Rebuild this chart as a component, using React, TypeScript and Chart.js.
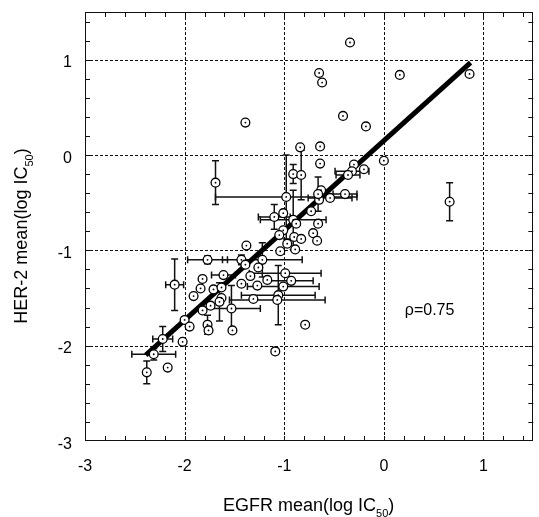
import React, { useEffect, useRef } from "react";
import { Chart, registerables } from "chart.js";

Chart.register(...registerables);

// ---- data (log IC50 means) ----
const egfrMean = [
  -0.34, -0.65, -0.62, 0.16, 0.86, -1.39, -0.41, -0.18, -0.84, -0.64,
  -0.64, 0.0, -0.30, -0.20, -0.32, -0.36, -0.91, -0.83, -1.69, -0.98,
  -0.63, -0.65, -0.54, -0.39, 0.66, -0.73, -1.01, -1.10, -0.91, -0.88,
  -0.66, -1.01, -0.71, -1.05, -0.90, -0.83, -0.67, -0.97, -0.89, -1.04,
  -1.38, -1.22, -1.26, -1.34, -1.17, -0.99, -0.93, -1.01, -1.27, -1.06,
  -1.07, -1.31, -0.79, -1.09, -1.77, -1.43, -1.39, -1.61, -1.82, -1.84,
  -1.91, -1.71, -1.63, -1.63, -1.43, -2.10, -1.74, -1.65, -1.53, -1.82,
  -1.52, -2.00, -1.95, -1.77, -1.76, -2.22, -2.02, -2.31, -2.38, -2.17,
  -0.66,
];
const her2Mean = [
  1.18, 0.86, 0.76, 0.84, 0.85, 0.34, 0.41, 0.30, 0.08, 0.09,
  -0.09, -0.06, -0.10, -0.15, -0.17, -0.21, -0.20, -0.21, -0.29, -0.44,
  -0.37, -0.47, -0.45, -0.41, -0.49, -0.59, -0.61, -0.65, -0.68, -0.72,
  -0.72, -0.79, -0.82, -0.84, -0.86, -0.88, -0.90, -0.93, -0.99, -1.01,
  -0.95, -1.10, -1.18, -1.27, -1.31, -1.24, -1.32, -1.38, -1.37, -1.47,
  -1.52, -1.51, -1.78, -2.06, -1.10, -1.10, -1.15, -1.26, -1.30, -1.40,
  -1.48, -1.41, -1.39, -1.50, -1.35, -1.36, -1.58, -1.54, -1.61, -1.63,
  -1.84, -1.73, -1.80, -1.78, -1.84, -1.93, -1.96, -2.09, -2.28, -2.23,
  -0.41,
];
const egfrErr = [
  0, 0, 0, 0, 0, 0, 0, 0, 0, 0,
  0, 0, 0, 0, 0.17, 0.12, 0, 0, 0, 0.71,
  0, 0, 0.22, 0.12, 0, 0, 0, 0.16, 0.33, 0,
  0, 0, 0, 0, 0, 0, 0, 0, 0, 0,
  0, 0.40, 0, 0, 0, 0.36, 0.22, 0.36, 0, 0.37,
  0.48, 0, 0, 0, 0.20, 0, 0, 0.12, 0, 0,
  0, 0, 0, 0, 0, 0.09, 0, 0, 0.29, 0,
  0, 0, 0, 0, 0, 0.10, 0, 0.22, 0, 0,
  0,
];
const her2Err = [
  0, 0, 0, 0, 0, 0, 0, 0, 0, 0,
  0, 0, 0, 0, 0, 0, 0.10, 0.26, 0.23, 0.44,
  0, 0, 0, 0, 0.20, 0, 0, 0.13, 0.31, 0,
  0, 0, 0, 0, 0, 0, 0, 0, 0, 0,
  0, 0.18, 0, 0, 0, 0, 0, 0, 0, 0.31,
  0, 0, 0, 0, 0.04, 0.05, 0, 0, 0, 0,
  0, 0, 0, 0, 0, 0.27, 0, 0.20, 0.24, 0,
  0, 0, 0, 0.10, 0, 0.13, 0, 0.06, 0.12, 0,
  0.18,
];

// regression line end points
const fitX = [-2.39, 0.87];
const fitY = [-2.1, 0.97];

// axes
const xTicks = [-3, -2, -1, 0, 1];
const yTicks = [-3, -2, -1, 0, 1];
const axisMin = -3;
const axisMax = 1.5;
const minorStep = 0.2;

const xTitle = "EGFR mean(log IC";
const yTitle = "HER-2 mean(log IC";
const subText = "50";
const rhoText = "\u03c1=0.75";
const rhoPos = { x: 0.21, y: -1.68 };

const FONT = "'Liberation Sans', Arial, Helvetica, sans-serif";

function drawTitle(ctx: CanvasRenderingContext2D, main: string) {
  ctx.font = `18px ${FONT}`;
  const w1 = ctx.measureText(main).width;
  ctx.font = `11px ${FONT}`;
  const w2 = ctx.measureText(subText).width;
  ctx.font = `18px ${FONT}`;
  const w3 = ctx.measureText(")").width;
  const total = w1 + w2 + w3;
  let cx = -total / 2;
  ctx.textAlign = "left";
  ctx.textBaseline = "alphabetic";
  ctx.fillText(main, cx, 0);
  cx += w1;
  ctx.font = `11px ${FONT}`;
  ctx.fillText(subText, cx, 5.5);
  cx += w2;
  ctx.font = `18px ${FONT}`;
  ctx.fillText(")", cx, 0);
}

const customPlugin = {
  id: "customAxes",
  beforeDatasetsDraw(chart: any) {
    const { ctx, chartArea: a, scales } = chart;
    const xs = scales.x;
    const ys = scales.y;
    ctx.save();
    // dotted grid
    ctx.strokeStyle = "#111";
    ctx.lineWidth = 1;
    ctx.setLineDash([3, 2]);
    xTicks.forEach((v) => {
      if (v <= axisMin) return;
      const px = Math.round(xs.getPixelForValue(v)) + 0.5;
      ctx.beginPath();
      ctx.moveTo(px, a.top);
      ctx.lineTo(px, a.bottom);
      ctx.stroke();
    });
    yTicks.forEach((v) => {
      if (v <= axisMin) return;
      const py = Math.round(ys.getPixelForValue(v)) + 0.5;
      ctx.beginPath();
      ctx.moveTo(a.left, py);
      ctx.lineTo(a.right, py);
      ctx.stroke();
    });
    ctx.setLineDash([]);
    // error bars
    ctx.strokeStyle = "#111";
    ctx.lineWidth = 1.5;
    const cap = 3.5;
    egfrMean.forEach((xv, i) => {
      const yv = her2Mean[i];
      const px = xs.getPixelForValue(xv);
      const py = ys.getPixelForValue(yv);
      const ex = egfrErr[i];
      const ey = her2Err[i];
      if (ex > 0) {
        const l = xs.getPixelForValue(xv - ex);
        const r = xs.getPixelForValue(xv + ex);
        ctx.beginPath();
        ctx.moveTo(l, py);
        ctx.lineTo(r, py);
        ctx.moveTo(l, py - cap);
        ctx.lineTo(l, py + cap);
        ctx.moveTo(r, py - cap);
        ctx.lineTo(r, py + cap);
        ctx.stroke();
      }
      if (ey > 0) {
        const t = ys.getPixelForValue(yv + ey);
        const b = ys.getPixelForValue(yv - ey);
        ctx.beginPath();
        ctx.moveTo(px, t);
        ctx.lineTo(px, b);
        ctx.moveTo(px - cap, t);
        ctx.lineTo(px + cap, t);
        ctx.moveTo(px - cap, b);
        ctx.lineTo(px + cap, b);
        ctx.stroke();
      }
    });
    ctx.restore();
  },
  afterDatasetsDraw(chart: any) {
    const { ctx, chartArea: a, scales } = chart;
    const xs = scales.x;
    const ys = scales.y;
    ctx.save();
    // frame
    ctx.strokeStyle = "#111";
    ctx.lineWidth = 1;
    ctx.strokeRect(Math.round(a.left) + 0.5, Math.round(a.top) + 0.5, Math.round(a.right - a.left) - 1, Math.round(a.bottom - a.top) - 1);
    // minor ticks on all four sides
    const tl = 5;
    for (let k = 1; axisMin + k * minorStep < axisMax - 1e-6; k++) {
      const v = axisMin + k * minorStep;
      const px = Math.round(xs.getPixelForValue(v)) + 0.5;
      const py = Math.round(ys.getPixelForValue(v)) + 0.5;
      ctx.beginPath();
      ctx.moveTo(px, a.bottom);
      ctx.lineTo(px, a.bottom - tl);
      ctx.moveTo(px, a.top);
      ctx.lineTo(px, a.top + tl);
      ctx.moveTo(a.left, py);
      ctx.lineTo(a.left + tl, py);
      ctx.moveTo(a.right, py);
      ctx.lineTo(a.right - tl, py);
      ctx.stroke();
    }
    // tick labels
    ctx.fillStyle = "#000";
    ctx.font = `16px ${FONT}`;
    ctx.textBaseline = "alphabetic";
    ctx.textAlign = "center";
    xTicks.forEach((v) => {
      ctx.fillText(String(v), xs.getPixelForValue(v), a.bottom + 30);
    });
    ctx.textAlign = "right";
    yTicks.forEach((v) => {
      ctx.fillText(String(v), a.left - 13, ys.getPixelForValue(v) + 7.5);
    });
    // axis titles
    ctx.save();
    ctx.translate((a.left + a.right) / 2 + 0.5 - 1, 511);
    drawTitle(ctx, xTitle);
    ctx.restore();
    ctx.save();
    ctx.translate(27, 236);
    ctx.rotate(-Math.PI / 2);
    drawTitle(ctx, yTitle);
    ctx.restore();
    // correlation text
    ctx.font = `16px ${FONT}`;
    ctx.textAlign = "left";
    ctx.fillText(rhoText, xs.getPixelForValue(rhoPos.x), ys.getPixelForValue(rhoPos.y));
    ctx.restore();
  },
};

export default function App() {
  const ref = useRef<HTMLCanvasElement | null>(null);
  useEffect(() => {
    if (!ref.current) return;
    const pts = egfrMean.map((x, i) => ({ x, y: her2Mean[i] }));
    const fit = fitX.map((x, i) => ({ x, y: fitY[i] }));
    const chart = new Chart(ref.current, {
      type: "scatter",
      data: {
        datasets: [
          {
            data: pts,
            pointRadius: 0.9,
            pointBackgroundColor: "#000",
            pointBorderWidth: 0,
            order: 0,
          },
          {
            data: pts,
            pointRadius: 4.4,
            pointBackgroundColor: "#fff",
            pointBorderColor: "#000",
            pointBorderWidth: 1.3,
            order: 1,
          },
          {
            type: "line",
            data: fit,
            showLine: true,
            borderColor: "#000",
            borderWidth: 5,
            pointRadius: 0,
            fill: false,
            order: 2,
          } as any,
        ],
      },
      options: {
        responsive: false,
        animation: false,
        events: [],
        layout: { padding: { left: 85, top: 12, right: 1, bottom: 76 } },
        plugins: { legend: { display: false }, tooltip: { enabled: false } },
        scales: {
          x: { type: "linear", min: axisMin, max: axisMax, display: false },
          y: { type: "linear", min: axisMin, max: axisMax, display: false },
        },
      },
      plugins: [customPlugin],
    });
    return () => chart.destroy();
  }, []);
  return (
    <div style={{ position: "absolute", left: 0, top: 0, width: 539, height: 517, background: "#fff" }}>
      <canvas ref={ref} width={539} height={517} style={{ display: "block" }} />
    </div>
  );
}
